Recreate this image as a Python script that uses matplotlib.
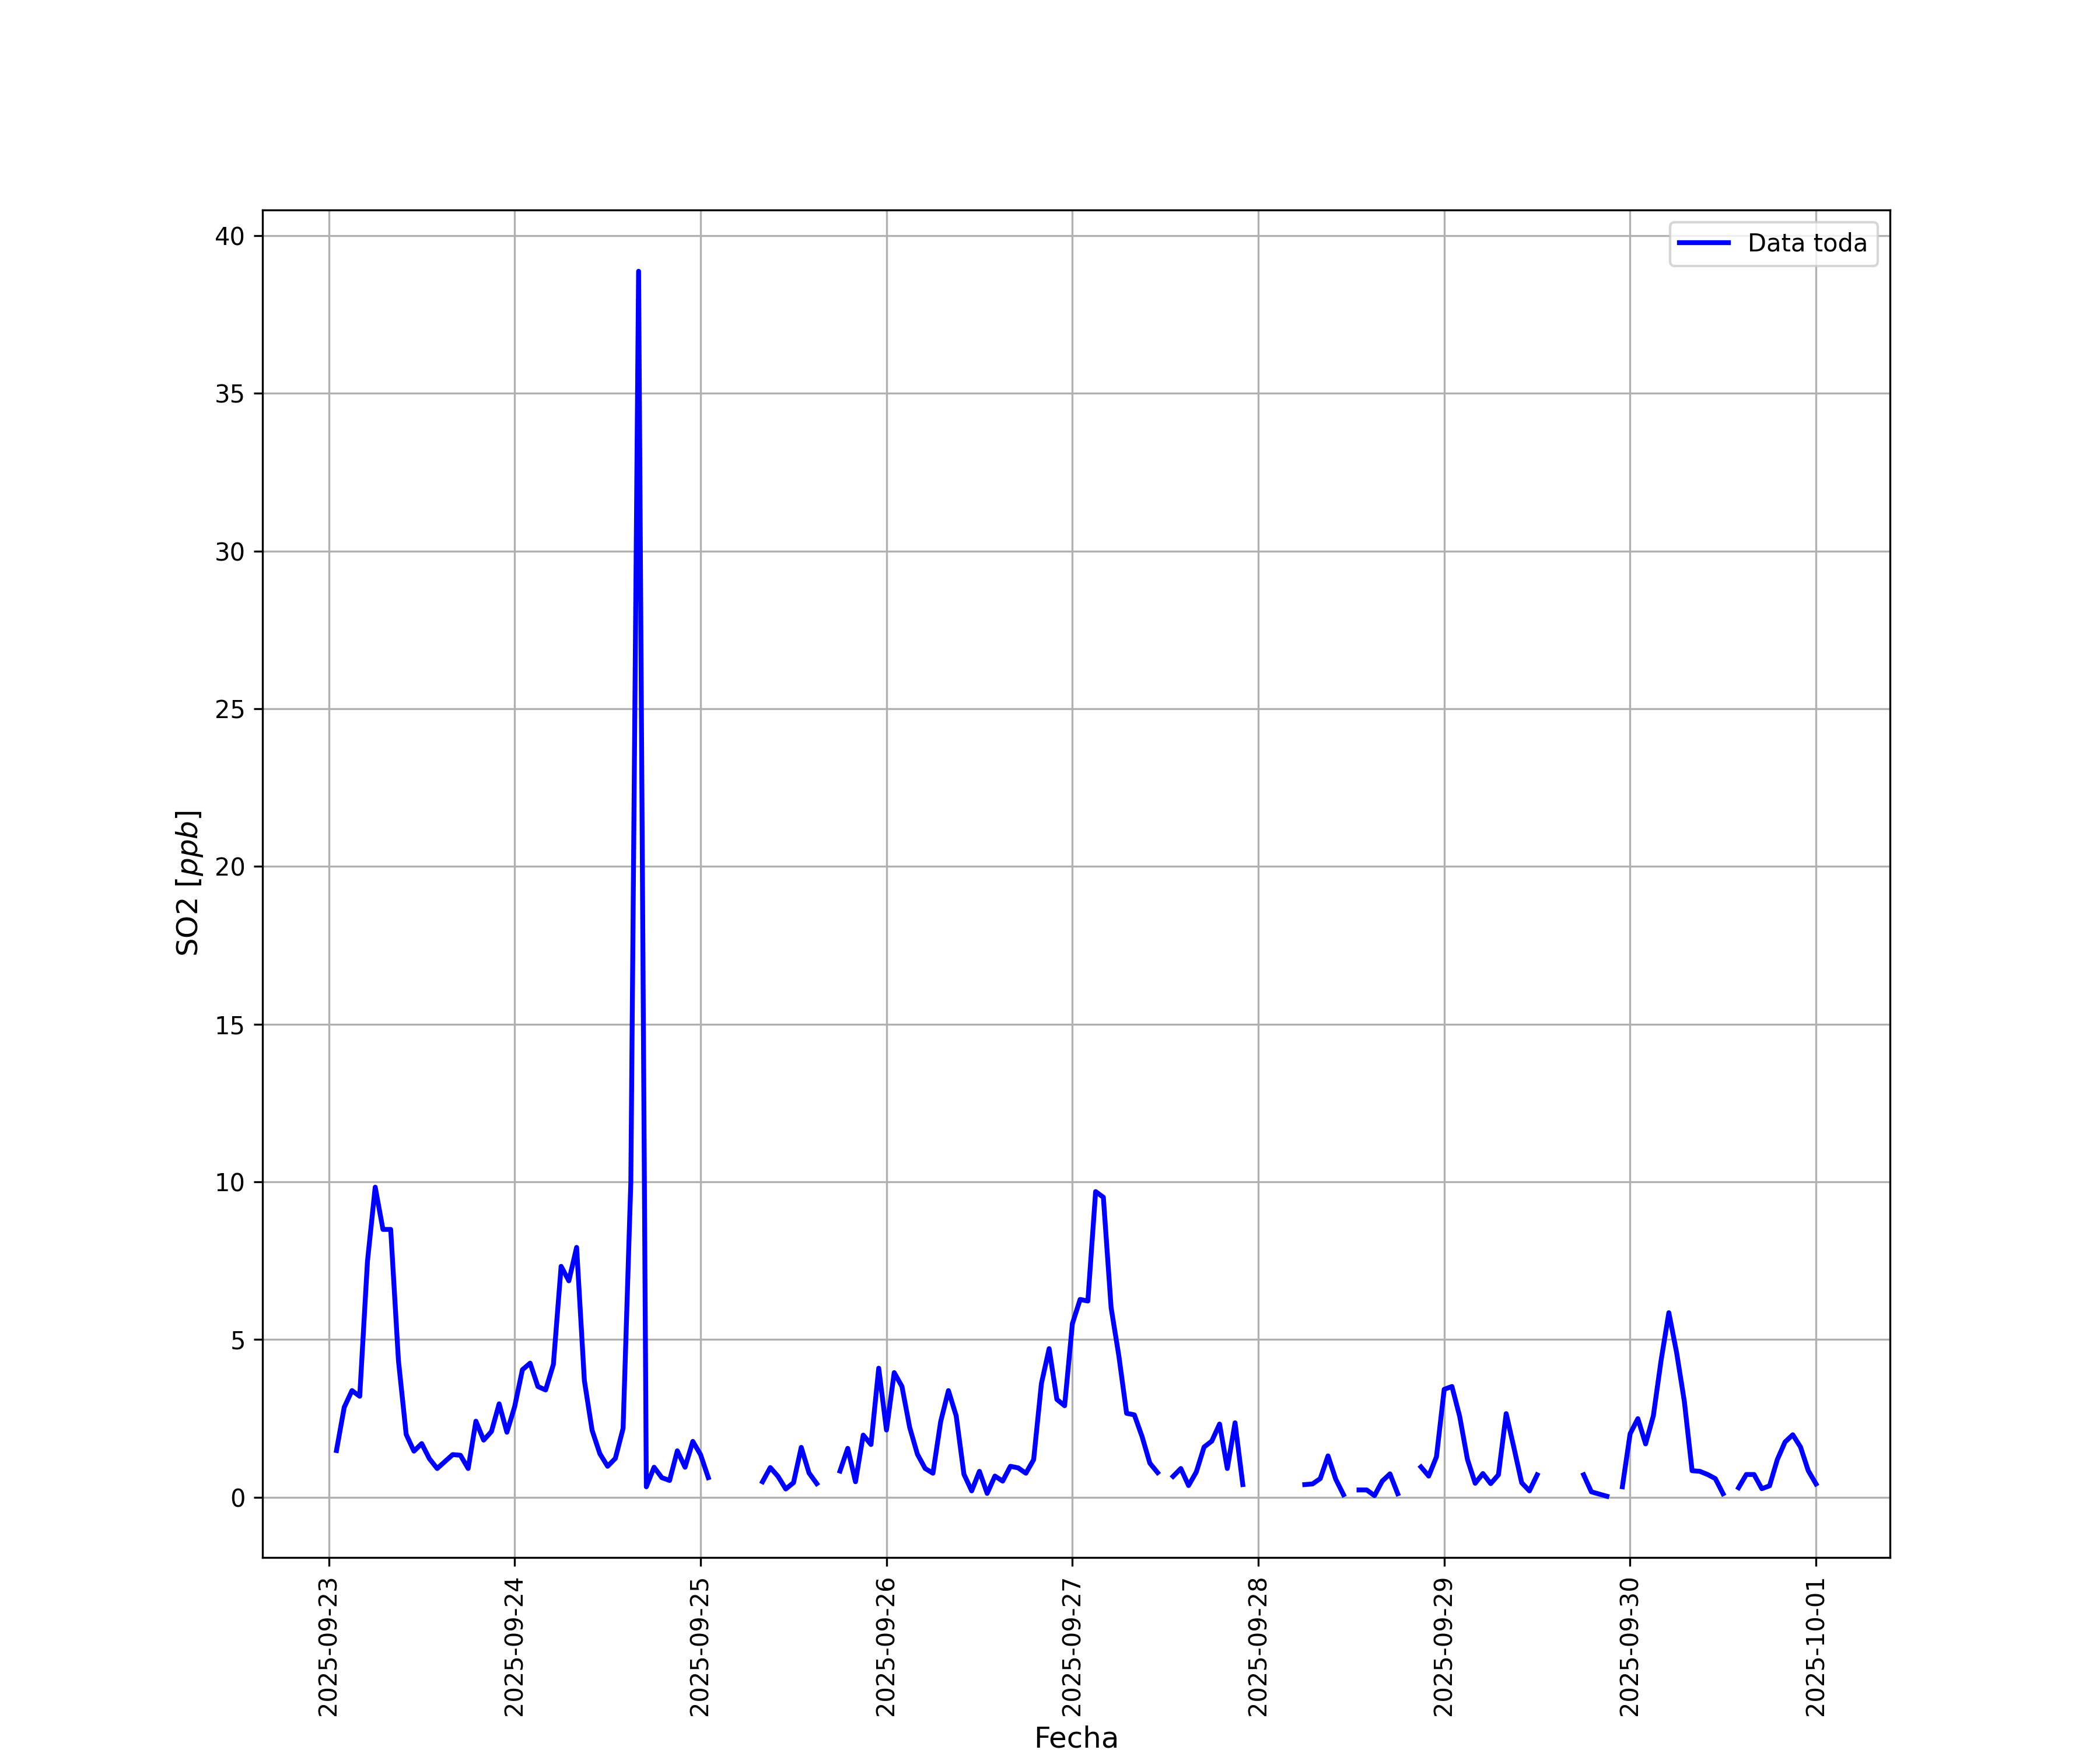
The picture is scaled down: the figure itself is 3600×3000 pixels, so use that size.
import numpy as np
import pandas as pd
import matplotlib
matplotlib.use("Agg")
import matplotlib.pyplot as plt
import matplotlib.dates as mdates

nan = np.nan

# hourly SO2 [ppb], one list per day (hours 00..23)
so2_0923 = [nan, 1.48, 2.85, 3.38, 3.20, 7.48, 9.83, 8.49, 8.49, 4.33, 1.99, 1.46,
            1.70, 1.22, 0.91, 1.13, 1.35, 1.33, 0.91, 2.41, 1.81, 2.08, 2.96, 2.06]
so2_0924 = [2.87, 4.04, 4.25, 3.51, 3.40, 4.21, 7.32, 6.86, 7.92, 3.70, 2.12, 1.38,
            0.98, 1.23, 2.18, 10.0, 38.87, 0.33, 0.95, 0.62, 0.53, 1.47, 0.95, 1.77]
so2_0925 = [1.35, 0.62, nan, nan, nan, nan, nan, nan, 0.49, 0.94, 0.66, 0.26,
            0.46, 1.58, 0.77, 0.43, nan, nan, 0.83, 1.55, 0.49, 1.97, 1.67, 4.09]
so2_0926 = [2.13, 3.95, 3.51, 2.21, 1.36, 0.91, 0.76, 2.40, 3.38, 2.58, 0.73, 0.20,
            0.82, 0.12, 0.67, 0.51, 0.98, 0.93, 0.76, 1.19, 3.60, 4.71, 3.10, 2.90]
so2_0927 = [5.50, 6.27, 6.22, 9.69, 9.51, 6.01, 4.48, 2.66, 2.61, 1.92, 1.08, 0.78,
            nan, 0.66, 0.91, 0.37, 0.80, 1.59, 1.78, 2.32, 0.91, 2.36, 0.40, nan]
so2_0928 = [nan, nan, nan, nan, nan, nan, 0.40, 0.42, 0.59, 1.31, 0.57, 0.08,
            nan, 0.23, 0.23, 0.05, 0.51, 0.74, 0.11, nan, nan, 0.96, 0.67, 1.28]
so2_0929 = [3.42, 3.51, 2.56, 1.20, 0.44, 0.75, 0.43, 0.71, 2.65, 1.57, 0.46, 0.20,
            0.71, nan, nan, nan, nan, nan, 0.71, 0.17, 0.10, 0.03, nan, 0.33]
so2_0930 = [2.01, 2.49, 1.69, 2.58, 4.34, 5.85, 4.59, 3.04, 0.84, 0.82, 0.72, 0.59,
            0.11, nan, 0.30, 0.72, 0.72, 0.27, 0.36, 1.19, 1.75, 1.98, 1.59, 0.84]
so2_1001 = [0.42]

valores = np.array(so2_0923 + so2_0924 + so2_0925 + so2_0926 + so2_0927
                   + so2_0928 + so2_0929 + so2_0930 + so2_1001, dtype=float)[1:]
fechas = pd.date_range("2025-09-23 01:00", periods=len(valores), freq="h")

fig, ax = plt.subplots(figsize=(12, 10), dpi=300)
ax.plot(fechas, valores, color="blue", linewidth=2, label="Data toda")
ax.set_xlabel("Fecha", fontsize=12)
ax.set_ylabel("SO2 [$ppb$]", fontsize=12)
ax.xaxis.set_major_locator(mdates.DayLocator())
ax.xaxis.set_major_formatter(mdates.DateFormatter("%Y-%m-%d"))
plt.setp(ax.get_xticklabels(), rotation=90)
ax.grid(True)
ax.legend(loc="upper right")

plt.savefig("out.png", dpi=300)
